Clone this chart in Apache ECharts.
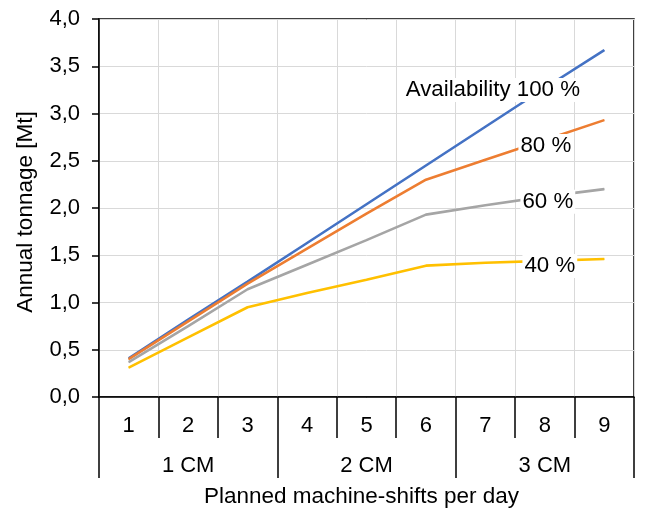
<!DOCTYPE html>
<html>
<head>
<meta charset="utf-8">
<script src="https://cdn.jsdelivr.net/npm/echarts@6/dist/echarts.min.js"></script>
<style>
html,body{margin:0;padding:0;background:#fff;}
#c{width:650px;height:522px;}
</style>
</head>
<body>
<div id="c"></div>
<script>
const categories = ['1','2','3','4','5','6','7','8','9'];
const groups = ['1 CM','2 CM','3 CM'];
const seriesNames = ['Availability 100 %','80 %','60 %','40 %'];
const avail100 = [0.41, 0.82, 1.22, 1.63, 2.04, 2.45, 2.86, 3.27, 3.67];
const avail80  = [0.40, 0.80, 1.20, 1.57, 1.94, 2.30, 2.51, 2.72, 2.93];
const avail60  = [0.37, 0.75, 1.14, 1.40, 1.66, 1.93, 2.03, 2.12, 2.20];
const avail40  = [0.31, 0.63, 0.95, 1.10, 1.24, 1.39, 1.42, 1.44, 1.46];
const yAxisTitle = 'Annual tonnage [Mt]';
const xAxisTitle = 'Planned machine-shifts per day';

const FONT = '"Liberation Sans", Arial, sans-serif';
const colors = ['#4472C4', '#ED7D31', '#A5A5A5', '#FFC000'];
const labelOffsets = [[-52, 2], [1, 6], [3, 5], [5, 5]];
const labelIndex = 7;

function makeSeries(name, values, idx) {
  return {
    name: name,
    type: 'line',
    showSymbol: true,
    symbol: 'circle',
    symbolSize: 1,
    itemStyle: { color: colors[idx] },
    lineStyle: { color: colors[idx], width: 2.6 },
    z: 2 + idx,
    data: values.map(function (v, i) {
      if (i !== labelIndex) return v;
      return {
        value: v,
        label: {
          show: true,
          position: 'inside',
          formatter: name,
          offset: labelOffsets[idx],
          color: '#000',
          fontFamily: FONT,
          fontSize: 22.3,
          backgroundColor: '#fff',
          padding: [1, 2]
        }
      };
    })
  };
}

const chart = echarts.init(document.getElementById('c'));
chart.setOption({
  animation: false,
  backgroundColor: '#fff',
  textStyle: { fontFamily: FONT },
  grid: {
    left: 99, right: 16, top: 19, bottom: 125,
    show: true, borderColor: '#000', borderWidth: 1.5, backgroundColor: 'transparent'
  },
  xAxis: [
    {
      type: 'category',
      data: categories,
      position: 'bottom',
      boundaryGap: true,
      axisLine: { show: true, lineStyle: { color: '#000', width: 1.5 } },
      axisTick: { show: true, interval: 0, length: 41, lineStyle: { color: '#000', width: 1.5 } },
      axisLabel: { interval: 0, margin: 18, color: '#000', fontSize: 22, fontFamily: FONT },
      splitLine: { show: true, interval: 0, lineStyle: { color: '#d9d9d9', width: 1 } }
    },
    {
      type: 'category',
      data: groups,
      position: 'bottom',
      boundaryGap: true,
      axisLine: { show: false },
      axisTick: { show: true, interval: 0, length: 81, lineStyle: { color: '#000', width: 1.5 } },
      axisLabel: { interval: 0, margin: 58, color: '#000', fontSize: 22, fontFamily: FONT },
      splitLine: { show: false },
      name: xAxisTitle,
      nameLocation: 'middle',
      nameGap: 88,
      nameTextStyle: { color: '#000', fontSize: 22.5, fontFamily: FONT, padding: [0, 10, 0, 0] }
    }
  ],
  yAxis: {
    type: 'value',
    min: 0, max: 4, interval: 0.5,
    axisLine: { show: true, lineStyle: { color: '#000', width: 1.5 } },
    axisTick: { show: true, length: 7, lineStyle: { color: '#000', width: 1.5 } },
    axisLabel: {
      margin: 19, color: '#000', fontSize: 22, fontFamily: FONT,
      formatter: function (v) { return v.toFixed(1).replace('.', ','); }
    },
    splitLine: { show: true, lineStyle: { color: '#d9d9d9', width: 1 } },
    name: yAxisTitle,
    nameLocation: 'middle',
    nameRotate: 90,
    nameGap: 62,
    nameTextStyle: { color: '#000', fontSize: 22.5, fontFamily: FONT, padding: [0, 8, 0, 0] }
  },
  series: [
    makeSeries(seriesNames[0], avail100, 0),
    makeSeries(seriesNames[1], avail80, 1),
    makeSeries(seriesNames[2], avail60, 2),
    makeSeries(seriesNames[3], avail40, 3)
  ]
});
</script>
</body>
</html>
